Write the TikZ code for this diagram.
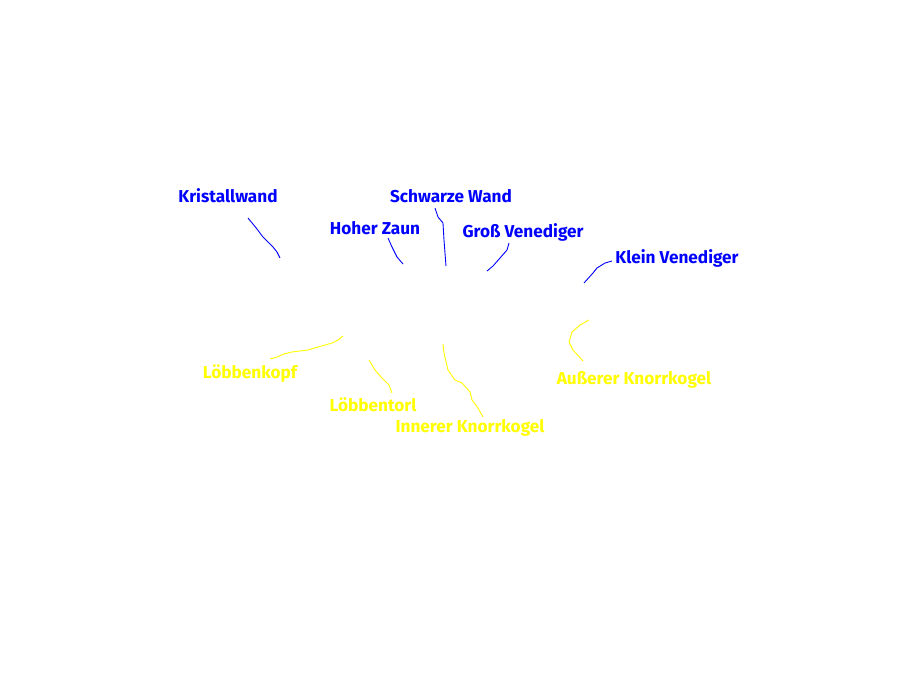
\documentclass[tikz,border=0pt]{standalone}
\usepackage{fontspec}
\setmainfont{Fira Sans}
\definecolor{pblue}{RGB}{0,0,255}
\definecolor{pyellow}{RGB}{255,255,0}
\begin{document}
\begin{tikzpicture}[x=1pt,y=-1pt,
  lbl/.style={font=\bfseries\fontsize{17.2}{20}\selectfont, inner sep=0pt, anchor=center},
  bl/.style={lbl, text=pblue},
  yl/.style={lbl, text=pyellow},
  bline/.style={draw=pblue, line width=0.9pt},
  yline/.style={draw=pyellow, line width=0.9pt}]
\useasboundingbox (0,0) rectangle (900,675);
\fill[white] (0,0) rectangle (900,675);
% labels
\node[bl] (kw) at (228,196) {Kristallwand};
\node[bl] (hz) at (375,228) {Hoher Zaun};
\node[bl] (sw) at (451,196) {Schwarze Wand};
\node[bl] (gv) at (523,232) {Groß Venediger};
\node[bl] (kv) at (677,258) {Klein Venediger};
\node[yl] (lk) at (250,374) {Löbbenkopf};
\node[yl] (lt) at (373,405) {Löbbentorl};
\node[yl] (ik) at (470,428) {Innerer Knorrkogel};
\node[yl] (ak) at (634,380) {Außerer Knorrkogel};
% free ends
\coordinate (kwe) at (280,258);
\coordinate (hze) at (403,264);
\coordinate (swe) at (446,266);
\coordinate (gve) at (487,271);
\coordinate (kve) at (584,283);
\coordinate (lke) at (343,336);
\coordinate (lte) at (369,360);
\coordinate (ike) at (443,344);
\coordinate (ake) at (589,320);
% blue lines
\draw[bline] (248,218) -- (257,229) -- (263,237) -- (273,247) -- (277,252) -- (kwe);
\draw[bline] (388,238) -- (392,247) -- (397,257) -- (hze);
\draw[bline] (435,208) -- (438,217) -- (443,223) -- (444,240) -- (swe);
\draw[bline] (509,243) -- (507,250) -- (500,258) -- (493,266) -- (gve);
\draw[bline] (612,261) -- (605,263) -- (597,268) -- (593,273) -- (kve);
% yellow lines
\draw[yline] (lke) -- (338,340) -- (332,343) -- (318,347) -- (308,350) -- (292,352) -- (284,354) -- (277,357) -- (270,359);
\draw[yline] (lte) -- (375,370) -- (382,378) -- (389,385) -- (392,393);
\draw[yline] (ike) -- (444,353) -- (448,370) -- (455,380) -- (462,383) -- (470,392) -- (472,400) -- (478,408) -- (483,417);
\draw[yline] (ake) -- (580,325) -- (572,332) -- (569,342) -- (573,350) -- (583,361);
\end{tikzpicture}
\end{document}
